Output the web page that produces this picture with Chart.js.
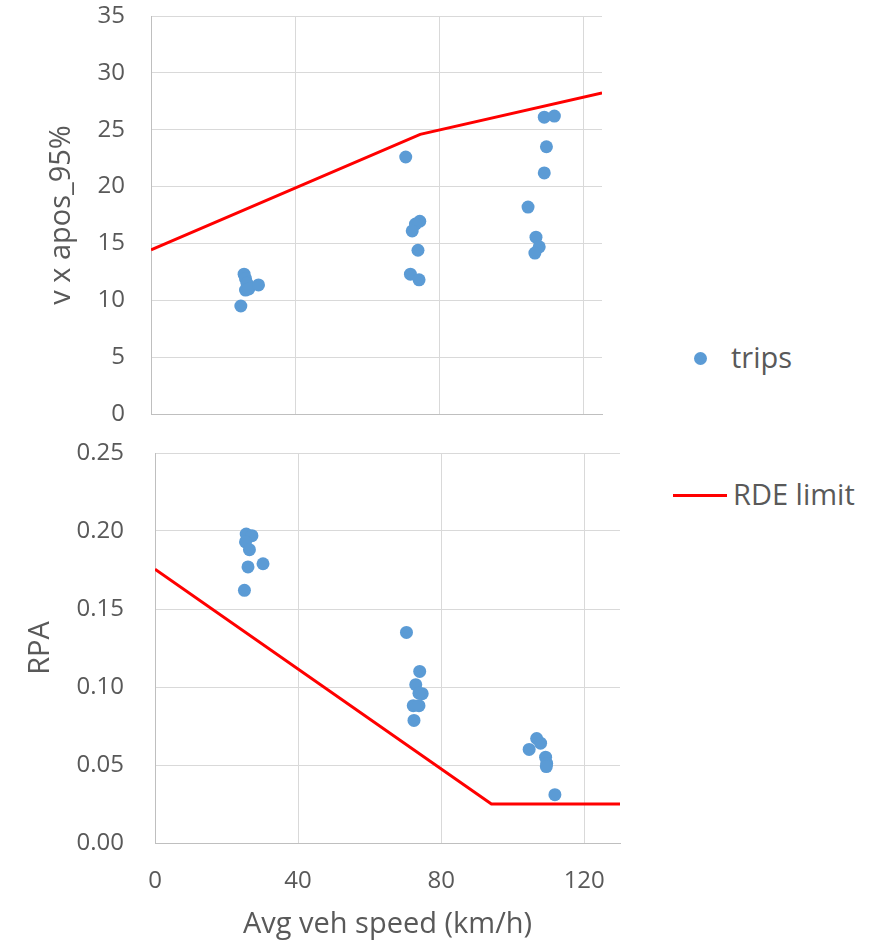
<!DOCTYPE html>
<html>
<head>
<meta charset="utf-8">
<script src="https://cdn.jsdelivr.net/npm/chart.js@4.4.1/dist/chart.umd.min.js"></script>
<style>
  html, body { margin: 0; padding: 0; background: #ffffff; }
  body { width: 882px; height: 944px; position: relative; overflow: hidden; font-family: "Open Sans", sans-serif; }
  #wrapTop { position: absolute; left: 0; top: 0; width: 620px; height: 430px; }
  #wrapBot { position: absolute; left: 0; top: 430px; width: 640px; height: 514px; }
  .leg { position: absolute; font-family: "Open Sans", sans-serif; font-size: 29px; color: #595959; line-height: 1; white-space: nowrap; }
  .dot { position: absolute; width: 13px; height: 13px; border-radius: 50%; background: #5b9bd5; }
  .ln { position: absolute; height: 3px; background: #ff0000; }
</style>
</head>
<body>
<div id="wrapTop"><canvas id="topChart"></canvas></div>
<div id="wrapBot"><canvas id="botChart"></canvas></div>
<div class="dot" style="left:694px; top:352px;"></div>
<div class="leg" style="left:731px; top:342px;">trips</div>
<div class="ln" style="left:673px; top:494px; width:54px;"></div>
<div class="leg" style="left:733px; top:479px;">RDE limit</div>
<script>
// ---- data ----
const seriesNames = ["trips", "RDE limit"];
const topTitleY = "v x apos_95%";
const botTitleY = "RPA";
const titleX = "Avg veh speed (km/h)";

// top panel: v x apos_95%
const topTripSpeed = [25.8, 26.2, 26.6, 26.2, 27.1, 29.8, 24.9,
                      70.6, 74.5, 73.3, 72.4, 74.0, 71.9, 74.3,
                      109.0, 111.8, 109.6, 109.0, 104.5, 106.7, 107.6, 106.4];
const topTripValue = [12.3, 11.9, 11.5, 10.9, 11.0, 11.35, 9.5,
                      22.6, 16.95, 16.7, 16.1, 14.4, 12.3, 11.8,
                      26.1, 26.2, 23.5, 21.2, 18.2, 15.55, 14.7, 14.15];
const topLimitSpeed = [0, 74.6, 125];
const topLimitValue = [14.44, 24.59, 28.24];

// bottom panel: RPA
const botTripSpeed = [25.5, 27.1, 25.3, 26.4, 26.0, 30.2, 25.0,
                      70.3, 74.0, 72.9, 74.7, 73.8, 72.2, 73.8, 72.4,
                      106.7, 107.8, 104.6, 109.2, 109.5, 109.4, 111.8];
const botTripValue = [0.198, 0.197, 0.193, 0.188, 0.177, 0.179, 0.162,
                      0.135, 0.110, 0.1015, 0.0957, 0.096, 0.088, 0.088, 0.0786,
                      0.067, 0.064, 0.060, 0.055, 0.051, 0.049, 0.031];
const botLimitSpeed = [0, 94.05, 130];
const botLimitValue = [0.1755, 0.025, 0.025];

// axes
const xTicks = [0, 40, 80, 120];
const topXMax = 125;
const botXMax = 130;
const topYTicks = [0, 5, 10, 15, 20, 25, 30, 35];
const botYTicks = [0, 0.05, 0.10, 0.15, 0.20, 0.25];

// ---- styling ----
const textColor = "#595959";
const gridColor = "#d9d9d9";
const borderColor = "#bfbfbf";
const tripColor = "#5b9bd5";
const limitColor = "#ff0000";
const tickFont = { family: "'Open Sans', sans-serif", size: 24 };
const titleFont = { family: "'Open Sans', sans-serif", size: 29 };

function zip(xs, ys) { return xs.map((x, i) => ({ x: x, y: ys[i] })); }

function datasets(tx, ty, lx, ly) {
  return [
    { label: seriesNames[1], data: zip(lx, ly), showLine: true, borderColor: limitColor,
      backgroundColor: limitColor, borderWidth: 3, pointRadius: 0, pointHoverRadius: 0, order: 0 },
    { label: seriesNames[0], data: zip(tx, ty), showLine: false, backgroundColor: tripColor,
      borderWidth: 0, pointRadius: 6.5, pointHoverRadius: 6.5, order: 1 }
  ];
}

function makeChart(id, cfg) {
  return new Chart(document.getElementById(id), {
    type: "scatter",
    data: { datasets: datasets(cfg.tx, cfg.ty, cfg.lx, cfg.ly) },
    options: {
      responsive: true,
      maintainAspectRatio: false,
      animation: false,
      events: [],
      layout: { padding: { top: cfg.padTop, right: cfg.padRight, left: 0, bottom: 0 } },
      plugins: { legend: { display: false }, tooltip: { enabled: false } },
      scales: {
        x: {
          type: "linear", min: 0, max: cfg.xMax,
          afterBuildTicks: s => { s.ticks = xTicks.map(v => ({ value: v })); },
          afterFit: s => { s.height = cfg.xHeight; s.paddingLeft = 0; s.paddingRight = 0; },
          grid: { color: gridColor, lineWidth: 1, drawTicks: false },
          border: { color: borderColor, width: 1 },
          ticks: { display: cfg.showX, color: textColor, font: tickFont, padding: 24, maxRotation: 0 },
          title: { display: cfg.showX, text: titleX, color: textColor, font: titleFont, padding: { top: 0, bottom: 2 } }
        },
        y: {
          type: "linear", min: cfg.yTicks[0], max: cfg.yTicks[cfg.yTicks.length - 1],
          afterBuildTicks: s => { s.ticks = cfg.yTicks.map(v => ({ value: v })); },
          afterFit: s => { s.width = cfg.yWidth; s.paddingTop = 0; s.paddingBottom = 0; },
          grid: { color: gridColor, lineWidth: 1, drawTicks: false },
          border: { color: borderColor, width: 1 },
          ticks: { color: textColor, font: tickFont, padding: cfg.yPad,
                   callback: v => cfg.fmt(v) },
          title: { display: true, text: cfg.yTitle, color: textColor, font: titleFont,
                   padding: { top: cfg.yTitlePad, bottom: 0 } }
        }
      }
    }
  });
}

makeChart("topChart", {
  tx: topTripSpeed, ty: topTripValue, lx: topLimitSpeed, ly: topLimitValue,
  xMax: topXMax, yTicks: topYTicks, yTitle: topTitleY, showX: false,
  padTop: 16, padRight: 18, xHeight: 16, yWidth: 151, yPad: 26, yTitlePad: 44,
  fmt: v => String(v)
});

makeChart("botChart", {
  tx: botTripSpeed, ty: botTripValue, lx: botLimitSpeed, ly: botLimitValue,
  xMax: botXMax, yTicks: botYTicks, yTitle: botTitleY, showX: true,
  padTop: 23, padRight: 20, xHeight: 101, yWidth: 155, yPad: 31, yTitlePad: 23,
  fmt: v => v.toFixed(2)
});
</script>
</body>
</html>
